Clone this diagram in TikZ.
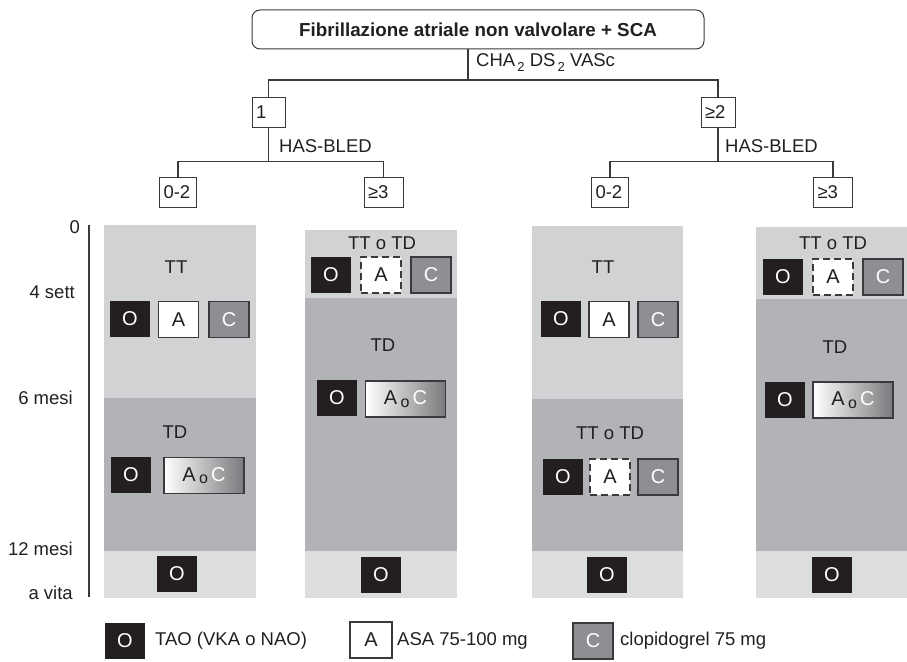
\documentclass[tikz,border=0pt]{standalone}
\usepackage{fontspec}
\setmainfont{Liberation Sans}
\definecolor{ink}{HTML}{231F20}
\definecolor{bandA}{HTML}{D1D2D4}
\definecolor{bandB}{HTML}{B2B3B7}
\definecolor{bandC}{HTML}{DCDDDF}
\definecolor{cgray}{HTML}{8E8F92}
\definecolor{edge}{HTML}{3A3A3C}
\newcommand{\aoc}{A\,\raisebox{-2.5pt}{\fontsize{16}{16}\selectfont o}\,\textcolor{white}{C}}
\newcommand{\subtwo}{\raisebox{-5pt}{\fontsize{13}{13}\selectfont\,2}}
\begin{document}
\begin{tikzpicture}[x=1pt,y=-1pt,
  every node/.style={font=\fontsize{18.5}{20}\selectfont, text=ink},
  drug/.style={minimum width=40pt, minimum height=36pt, inner sep=0pt, font=\fontsize{20}{22}\selectfont},
  obox/.style={drug, fill=ink, text=white},
  abox/.style={drug, fill=white, draw=edge, line width=1.1pt},
  adash/.style={drug, fill=white, draw=edge, line width=1.3pt, dash pattern=on 7pt off 4pt},
  cbox/.style={drug, fill=cgray, draw=edge, line width=1.1pt, text=white},
  acbox/.style={drug, minimum width=80pt, left color=white, right color=cgray!85!black, draw=edge, line width=1.1pt},
  tbox/.style={draw=edge, line width=1pt, minimum height=30pt, inner xsep=4pt, inner ysep=0pt, align=left},
  link/.style={draw=edge, line width=1.2pt},
  lab/.style={inner sep=0pt}
  ]
\useasboundingbox (0,0) rectangle (907,661);

% ---------- tree ----------
\node[draw=edge, line width=1pt, rounded corners=8pt, minimum width=452pt, minimum height=39pt, font=\fontsize{18.8}{20}\selectfont\bfseries] (top) at (478,29.5) {Fibrillazione atriale non valvolare + SCA};
\node[tbox, text width=25pt] (b1) at (268.5,112) {1};
\node[tbox, text width=26pt] (b2) at (718,112) {≥2};
\node[tbox, text width=29pt] (l02) at (178,192) {0-2};
\node[tbox, text width=31pt] (l3) at (383.5,192) {≥3};
\node[tbox, text width=29pt] (r02) at (610,192) {0-2};
\node[tbox, text width=31pt] (r3) at (833,192) {≥3};

\coordinate (j0) at (468,80);
\draw[link] (top.south -| j0) -- (j0);
\draw[link] (b1.north) |- (j0) -| (b2.north);
\path (b1.south) ++(0,34) coordinate (j1);
\path (b2.south) ++(0,34) coordinate (j2);
\draw[link] (b1.south) -- (j1);
\draw[link] (l02.north) |- (j1) -| (l3.north);
\draw[link] (b2.south) -- (j2);
\draw[link] (r02.north) |- (j2) -| (r3.north);

\node[anchor=west, lab] (cha) at (476,63) {CHA\subtwo\ DS\subtwo\ VASc};
\node[anchor=west, lab] (hb1) at (279,146) {HAS-BLED};
\node[anchor=west, lab] (hb2) at (725,146) {HAS-BLED};

% ---------- timeline ----------
\coordinate (t0) at (89,225);
\coordinate (t1) at (89,597);
\draw[link] (t0) -- (t1);
\node[anchor=east, lab] (m0) at (80,227) {0};
\node[anchor=east, lab] (m1) at (75,292) {4 sett};
\node[anchor=east, lab] (m2) at (73,398) {6 mesi};
\node[anchor=east, lab] (m3) at (73,549) {12 mesi};
\node[anchor=east, lab] (m4) at (73,593) {a vita};

% ---------- bands ----------
\fill[bandA] (104,225) rectangle (256,398);
\fill[bandB] (104,398) rectangle (256,551);
\fill[bandC] (104,551) rectangle (256,598);

\fill[bandA] (305,230) rectangle (457,298);
\fill[bandB] (305,298) rectangle (457,551);
\fill[bandC] (305,551) rectangle (457,598);

\fill[bandA] (532,226) rectangle (683,399);
\fill[bandB] (532,399) rectangle (683,551);
\fill[bandC] (532,551) rectangle (683,598);

\fill[bandA] (756,227) rectangle (907,299);
\fill[bandB] (756,299) rectangle (907,551);
\fill[bandC] (756,551) rectangle (907,598);

% ---------- column 1 ----------
\node (c1t) at (176,267) {TT};
\node[obox] (c1o) at (130,318.5) {O};
\node[abox] (c1a) at (178.5,319.5) {A};
\node[cbox] (c1c) at (229,319.5) {C};
\node (c1d) at (175,432) {TD};
\node[obox] (c1o2) at (131,475) {O};
\node[acbox] (c1ac) at (204,475.5) {\aoc};
\node[obox] (c1o3) at (177,573.5) {O};

% ---------- column 2 ----------
\node (c2t) at (382,243) {TT o TD};
\node[obox] (c2o) at (331,274.5) {O};
\node[adash] (c2a) at (381,275) {A};
\node[cbox] (c2c) at (431,275) {C};
\node (c2d) at (383,345) {TD};
\node[obox] (c2o2) at (337,397.5) {O};
\node[acbox] (c2ac) at (405.5,399) {\aoc};
\node[obox] (c2o3) at (381,574.5) {O};

% ---------- column 3 ----------
\node (c3t) at (603,267) {TT};
\node[obox] (c3o) at (561,318.5) {O};
\node[abox] (c3a) at (609,319.5) {A};
\node[cbox] (c3c) at (658,319.5) {C};
\node (c3d) at (610,433) {TT o TD};
\node[obox] (c3o2) at (563,477) {O};
\node[adash] (c3a2) at (610,477) {A};
\node[cbox] (c3c2) at (658,477) {C};
\node[obox] (c3o3) at (607,574.5) {O};

% ---------- column 4 ----------
\node (c4t) at (833,243) {TT o TD};
\node[obox] (c4o) at (783,277) {O};
\node[adash] (c4a) at (833,277) {A};
\node[cbox] (c4c) at (883,277) {C};
\node (c4d) at (835,347) {TD};
\node[obox] (c4o2) at (785,400) {O};
\node[acbox] (c4ac) at (853,400) {\aoc};
\node[obox] (c4o3) at (832,574.5) {O};

% ---------- legend ----------
\node[obox] (lo) at (125,641) {O};
\node[anchor=west, lab] (lot) at (155,641) {TAO (VKA o NAO)};
\node[abox, minimum width=42pt] (la) at (371,640) {A};
\node[anchor=west, lab] (lat) at (397,641) {ASA 75-100 mg};
\node[cbox] (lc) at (593,641) {C};
\node[anchor=west, lab] (lct) at (620,641) {clopidogrel 75 mg};
\end{tikzpicture}
\end{document}
